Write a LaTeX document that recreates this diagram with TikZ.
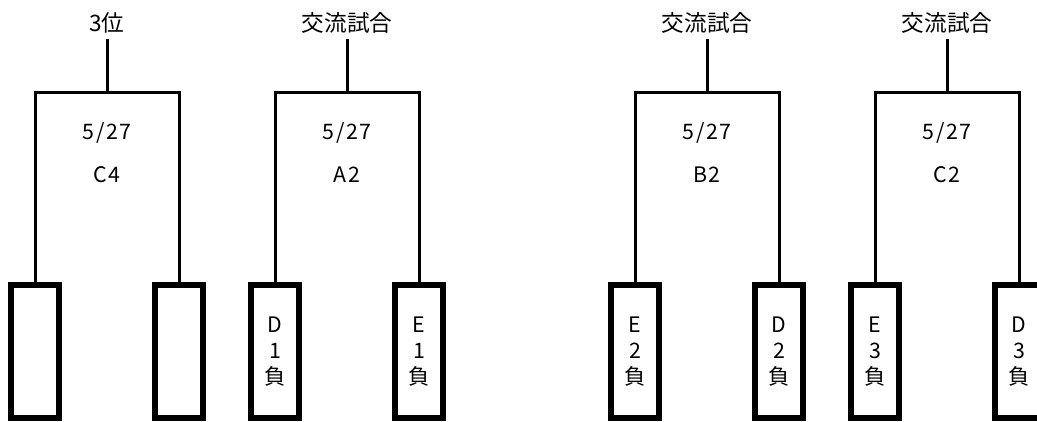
\documentclass[tikz,border=0pt]{standalone}
\usepackage{fontspec}
\setmainfont{Noto Sans CJK JP}
\newfontfamily\spaced[LetterSpace=8]{Noto Sans CJK JP}
\begin{document}
\begin{tikzpicture}[x=0.75pt,y=-0.75pt,
  conn/.style={line width=2.25pt},
  lbl/.style={inner sep=0pt,font=\fontsize{17}{20}\selectfont},
  mid/.style={inner sep=0pt,font=\spaced\fontsize{16}{18}\selectfont},
  team/.style={draw,line width=4.5pt,rectangle,minimum width=36pt,minimum height=99.75pt,inner sep=0pt,align=center,font=\fontsize{16}{19.5}\selectfont}]
\useasboundingbox (0,0) rectangle (1037,421);
\foreach \i/\cx/\top/\code/\ta/\tb in {1/107/3位/C4/{}/{},2/347/交流試合/A2/D\\1\\負/E\\1\\負,3/707/交流試合/B2/E\\2\\負/D\\2\\負,4/947/交流試合/C2/E\\3\\負/D\\3\\負}{
  \node[lbl] (t\i) at (\cx,23) {\top};
  \coordinate (m\i) at (\cx,92);
  \node[mid] (d\i) at (\cx,133) {5/27};
  \node[mid] (c\i) at (\cx,175) {\code};
  \node[team] (a\i) at (\cx-72,351.5) {\ta};
  \node[team] (b\i) at (\cx+72,351.5) {\tb};
  \draw[conn,shorten <=4pt] (t\i.south) -- (m\i);
  \draw[conn] (a\i.north) |- (m\i) -| (b\i.north);
}
\end{tikzpicture}
\end{document}
